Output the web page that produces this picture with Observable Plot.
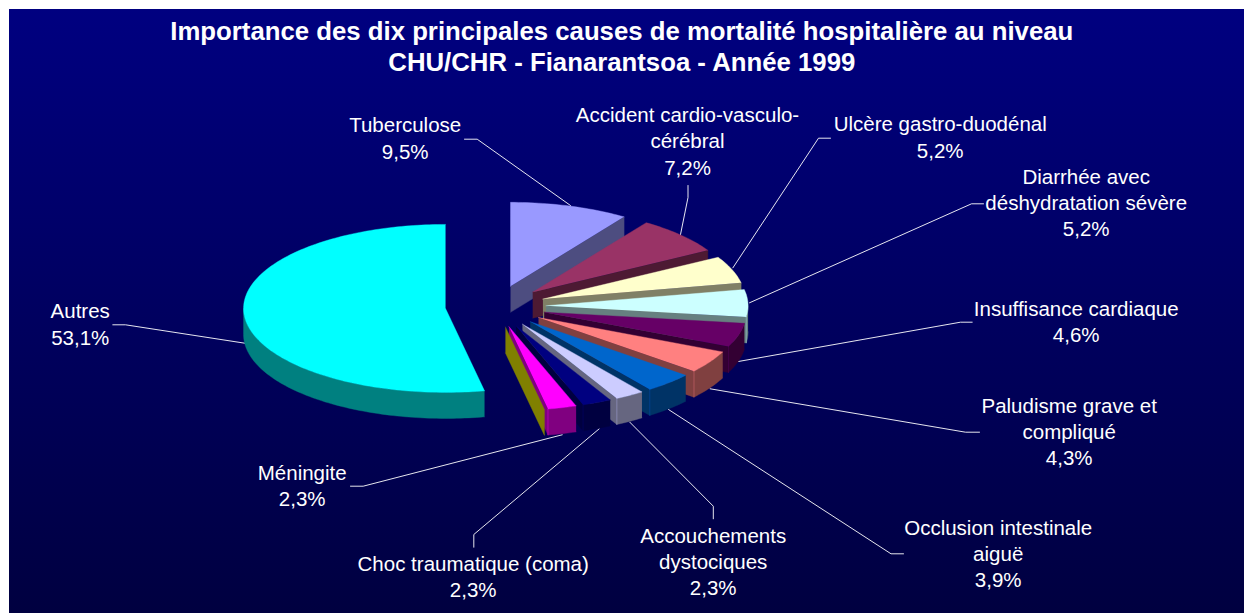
<!DOCTYPE html>
<html lang="fr">
<head>
<meta charset="utf-8">
<style>html,body{margin:0;padding:0;background:#fff;overflow:hidden}</style>
<script src="https://cdn.jsdelivr.net/npm/d3@7"></script>
<script src="https://cdn.jsdelivr.net/npm/@observablehq/plot@0.6"></script>
</head>
<body>
<div id="chart"></div>
<script>
// Data, clockwise from 12 o'clock. The unlabelled 0 entry is the empty slice whose olive wall shows beside "Méningite".
const causes = ["Tuberculose", "Accident cardio-vasculo-\ncérébral", "Ulcère gastro-duodénal", "Diarrhée avec\ndéshydratation sévère", "Insuffisance cardiaque", "Paludisme grave et\ncompliqué", "Occlusion intestinale\naiguë", "Accouchements\ndystociques", "Choc traumatique (coma)", "Méningite", "", "Autres"];
const shares = [9.5, 7.2, 5.2, 5.2, 4.6, 4.3, 3.9, 2.34, 2.34, 2.3, 0, 53.06];
const faceColors = ["#9999ff", "#993366", "#ffffcc", "#ccffff", "#660066", "#ff8080", "#0066cc", "#ccccff", "#000080", "#ff00ff", "#ffff00", "#00ffff"];
const wallColors = ["#4d4d80", "#4d1a33", "#808066", "#668080", "#330033", "#804040", "#003366", "#666680", "#000040", "#800080", "#808000", "#008080"];
const titleLines = "Importance des dix principales causes de mortalité hospitalière au niveau\nCHU/CHR - Fianarantsoa - Année 1999";

// Layout
const W = 1244, H = 613;
const cx = 495.2, cy = 305.9, rx = 202, ry = 84, depth = 26, explodeX = 50.4, explodeY = 21;
const labelCenters = [[404.7,136.5],[687,139.5],[939.7,135.5],[1085.7,201],[1075.7,320],[1068.7,430],[997.7,552],[712.7,560],[472.7,575],[301.7,484],null,[79.7,322.5]];
const leaders = [
  [[464,138.7],[476.7,138.7],[570,205]],
  [[687.5,185],[687.5,197],[680,234]],
  [[830,137.7],[818,137.7],[732.4,267.3]],
  [[983,203.3],[971,203.3],[749,302.3]],
  [[971.7,321.7],[960,321.7],[737.8,361]],
  [[979,431.7],[965,431.7],[709.6,388.3]],
  [[903,553.3],[890.5,553.3],[668,409]],
  [[712.8,518.3],[712.8,505.7],[629.3,421.7]],
  [[473.3,546.7],[473.3,534],[598.7,428.3]],
  [[350,485.7],[362.7,485.7],[561.7,434.3]],
  null,
  [[112.3,324.3],[125,324.3],[244.3,342.7]]
];

// Geometry derived from the shares
const arcs = d3.pie().sort(null).value(d => d)(shares);
const polys = [];
function push(id, fill, pts) { pts.forEach(([x, y]) => polys.push({id, fill, x, y})); }
function angleSteps(a0, a1) {
  const n = Math.max(1, Math.ceil((a1 - a0) / 0.02));
  return d3.range(n + 1).map(i => a0 + (a1 - a0) * i / n);
}
arcs.forEach((a, i) => {
  const mid = (a.startAngle + a.endAngle) / 2;
  const ax = cx + explodeX * Math.sin(mid), ay = cy - explodeY * Math.cos(mid);
  const at = t => [ax + rx * Math.sin(t), ay - ry * Math.cos(t)];
  const end = at(a.endAngle);
  const endWall = a.endAngle < Math.PI + 0.001;
  if (endWall) {
    push(`w${i}`, wallColors[i], [[ax, ay], end, [end[0], end[1] + depth], [ax, ay + depth]]);
  }
  const o0 = Math.max(a.startAngle, Math.PI / 2), o1 = Math.min(a.endAngle, 3 * Math.PI / 2);
  if (o1 > o0) {
    const top = angleSteps(o0, o1).map(at);
    push(`o${i}`, wallColors[i], [...top, ...top.slice().reverse().map(([x, y]) => [x, y + depth])]);
    if (endWall) push(`s${i}`, faceColors[i], [end, [end[0], end[1] + depth]]);
  }
  if (a.endAngle > a.startAngle) {
    push(`f${i}`, faceColors[i], [[ax, ay], ...angleSteps(a.startAngle, a.endAngle).map(at)]);
  }
});

const labels = causes.map((c, i) => c && {
  text: `${c}\n${shares[i].toFixed(1).replace(".", ",")}%`,
  x: labelCenters[i][0], y: labelCenters[i][1]
}).filter(Boolean);
const leaderRows = leaders.flatMap((l, i) => l ? l.map(([x, y]) => ({i, x, y})) : []);

const gradient = () => {
  const defs = d3.create("svg:defs");
  const g = defs.append("linearGradient").attr("id", "bg").attr("x1", 0).attr("x2", 0).attr("y1", 0).attr("y2", 1);
  g.append("stop").attr("offset", "0%").attr("stop-color", "#000080");
  g.append("stop").attr("offset", "100%").attr("stop-color", "#000040");
  return defs.node();
};

const chart = Plot.plot({
  width: W, height: H, margin: 0,
  x: {type: "linear", domain: [0, W], range: [0, W], axis: null},
  y: {type: "linear", domain: [0, H], range: [0, H], axis: null},
  color: {type: "identity"},
  style: {background: "#fff", fontFamily: "'Liberation Sans', Arial, sans-serif"},
  marks: [
    gradient,
    Plot.rect([0], {x1: () => 9, x2: () => W, y1: () => 9, y2: () => H, fill: "url(#bg)"}),
    Plot.line(leaderRows, {x: "x", y: "y", z: "i", stroke: "#fff", strokeWidth: 1, strokeOpacity: 0.9, curve: "linear"}),
    Plot.line(polys, {x: "x", y: "y", z: "id", fill: "fill", stroke: "fill", strokeWidth: 0.4, curve: "linear"}),
    Plot.text(labels, {x: "x", y: "y", text: "text", fill: "#fff", fontSize: 20.5, lineHeight: 1.285, lineAnchor: "middle", textAnchor: "middle"}),
    Plot.text([titleLines], {x: () => 621.3, y: () => 45.5, text: d => d, fill: "#fff", fontSize: 25.75, fontWeight: "bold", lineHeight: 1.2, lineAnchor: "middle", textAnchor: "middle"})
  ]
});
document.getElementById("chart").append(chart);
</script>
</body>
</html>
